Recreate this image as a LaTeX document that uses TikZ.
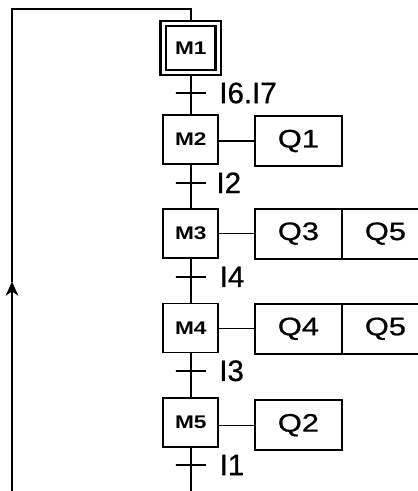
\documentclass[tikz,border=0pt]{standalone}
\usepackage{fontspec}
\setmainfont{Liberation Sans}
\newfontfamily\chartfont[FakeBold=0.7]{Liberation Sans}
\usetikzlibrary{positioning,arrows.meta}

% wide lettering as in the chart
\newcommand{\mtxt}[1]{\scalebox{1.24}[1]{#1}}
\newcommand{\qtxt}[1]{\scalebox{1.22}[1]{#1}}

\begin{document}
\begin{tikzpicture}[
        stepbox/.style={rectangle, draw, line width=1.3pt, minimum width=1.375cm, minimum height=1.225cm, inner sep=0pt, font=\fontsize{13}{15}\selectfont\bfseries},
        initstep/.style={stepbox, double, line width=1.6pt, double distance=2.4pt},
        trans/.style={rectangle, draw, line width=1.1pt, minimum width=0.75cm, minimum height=0pt, inner sep=0pt, outer sep=0pt},
        cond/.style={inner sep=0pt, font=\chartfont\fontsize{21}{24}\selectfont},
        actbox/.style={rectangle, draw, line width=1.3pt, minimum width=2.175cm, minimum height=1.25cm, inner sep=0pt, outer sep=0pt, font=\chartfont\fontsize{18}{21}\selectfont},
        link/.style={line width=0.95pt}
    ]
        \useasboundingbox (0, 0) rectangle (10.425, -12.275);

        % Steps
        \node (M1) [initstep] at (4.77, -1.2) {\mtxt{M1}};
        \node (M2) [stepbox] at (4.77, -3.49) {\mtxt{M2}};
        \node (M3) [stepbox] at (4.77, -5.84) {\mtxt{M3}};
        \node (M4) [stepbox] at (4.77, -8.2) {\mtxt{M4}};
        \node (M5) [stepbox] at (4.77, -10.56) {\mtxt{M5}};

        % Transitions
        \node (t1) [trans] at (4.77, -2.325) {};
        \node (t2) [trans] at (4.77, -4.57) {};
        \node (t3) [trans] at (4.77, -6.92) {};
        \node (t4) [trans] at (4.77, -9.27) {};
        \node (t5) [trans] at (4.77, -11.625) {};
        \node (c1) [cond, right=0.33cm of t1] {I6.I7};
        \node (c2) [cond, right=0.26cm of t2] {I2};
        \node (c3) [cond, right=0.34cm of t3] {I4};
        \node (c4) [cond, right=0.33cm of t4] {I3};
        \node (c5) [cond, right=0.34cm of t5] {I1};

        % Actions
        \node (Q1) [actbox] at (7.46, -3.525) {\qtxt{Q1}};
        \node (Q3) [actbox] at (7.46, -5.84) {\qtxt{Q3}};
        \node (Q5a) [actbox, right=0pt of Q3] {\qtxt{Q5}};
        \node (Q4) [actbox] at (7.46, -8.22) {\qtxt{Q4}};
        \node (Q5b) [actbox, right=0pt of Q4] {\qtxt{Q5}};
        \node (Q2) [actbox] at (7.46, -10.63) {\qtxt{Q2}};

        % Loop
        \coordinate (bot) at (4.77, -12.3);
        \coordinate (loopB) at (0.3, -12.3);
        \coordinate (loopA) at (0.3, -7.04);
        \coordinate (loopT) at (0.3, -0.225);

        % Edges
        \draw[line width=1.2pt] (M1) -- (t1) -- (M2);
        \draw[line width=1.2pt] (M2) -- (t2) -- (M3);
        \draw[line width=1.2pt] (M3) -- (t3) -- (M4);
        \draw[line width=1.2pt] (M4) -- (t4) -- (M5);
        \draw[line width=1.2pt] (M5) -- (t5) -- (bot);
        \draw[link] (M2.east |- Q1) -- (Q1);
        \draw[link] (M3.east |- Q3) -- (Q3);
        \draw[link] (M4.east |- Q4) -- (Q4);
        \draw[link] (M5.east |- Q2) -- (Q2);
        \draw[line width=1.3pt, -{Stealth[length=10pt, width=9pt, inset=3pt]}] (loopB) -- (loopA);
        \draw[line width=1.3pt] (loopA) -- (loopT) -| (M1.north);

    \end{tikzpicture}
\end{document}
